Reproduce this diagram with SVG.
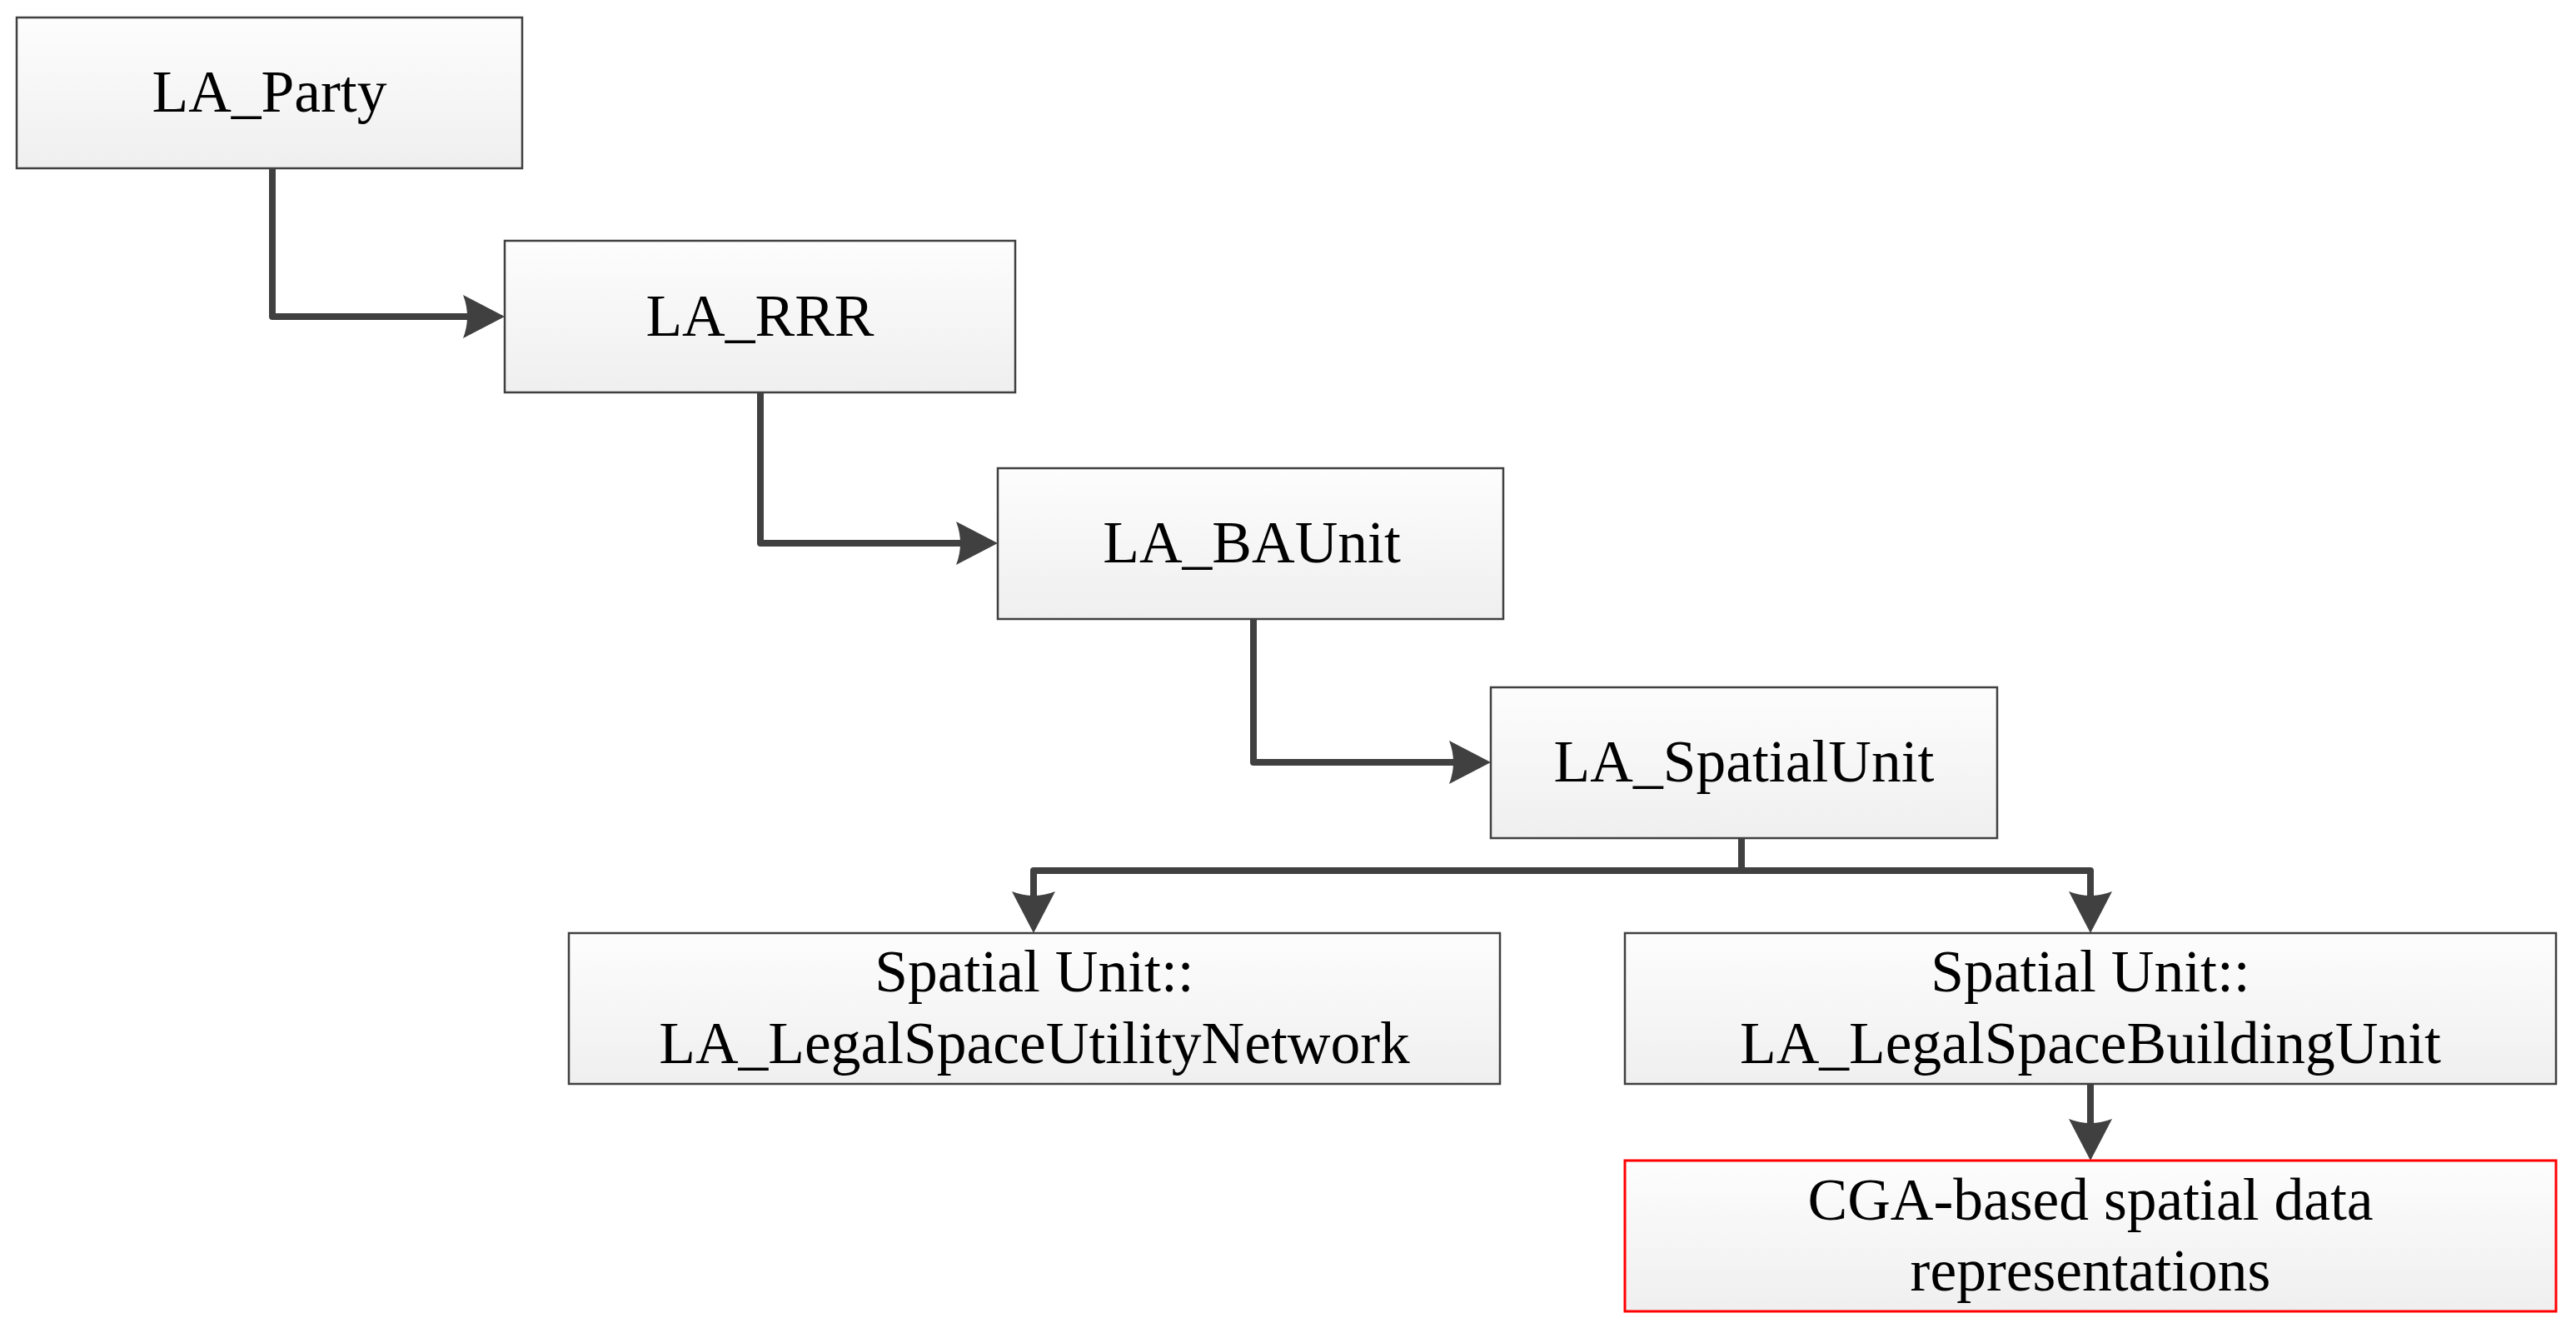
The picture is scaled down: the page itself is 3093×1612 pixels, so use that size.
<svg xmlns="http://www.w3.org/2000/svg" width="3093" height="1612" viewBox="0 0 3093 1612">
<style>
.box{fill:url(#g);stroke:#404040;stroke-width:2.5}
.red{fill:url(#g);stroke:#ff0000;stroke-width:3}
.t{font-family:"Liberation Serif","Times New Roman",serif;font-size:71.5px;fill:#000;text-anchor:middle}
.c{fill:none;stroke:#404040;stroke-width:8;stroke-linejoin:round}
.a{marker-end:url(#ah)}
</style>
<defs>
<linearGradient id="g" x1="0" y1="0" x2="0" y2="1">
<stop offset="0" stop-color="#fdfdfd"/>
<stop offset="1" stop-color="#efefef"/>
</linearGradient>
<marker id="ah" markerUnits="userSpaceOnUse" markerWidth="52" markerHeight="54" refX="8" refY="26" orient="auto" overflow="visible">
<path d="M50,26 L0,0 Q10,26 0,52 Z" fill="#404040"/>
</marker>
</defs>
<rect width="3093" height="1612" fill="#ffffff"/>
<g id="connectors">
<path class="c a" d="M327,202 V380 H564"/>
<path class="c a" d="M913,471 V652 H1156"/>
<path class="c a" d="M1505,743 V915 H1748"/>
<path class="c" d="M2091,1006 V1045"/>
<path class="c a" d="M2091,1045 H1241 V1078"/>
<path class="c a" d="M2091,1045 H2510 V1078"/>
<path class="c a" d="M2510,1301 V1351"/>
</g>
<g id="la_party">
<rect class="box" x="20" y="21" width="607" height="181"/>
<text class="t" x="323.5" y="134">LA_Party</text>
</g>
<g id="la_rrr">
<rect class="box" x="606" y="289" width="613" height="182"/>
<text class="t" x="912.5" y="403">LA_RRR</text>
</g>
<g id="la_baunit">
<rect class="box" x="1198" y="562" width="607" height="181"/>
<text class="t" x="1503" y="675">LA_BAUnit</text>
</g>
<g id="la_spatialunit">
<rect class="box" x="1790" y="825" width="608" height="181"/>
<text class="t" x="2094" y="938">LA_SpatialUnit</text>
</g>
<g id="utility_network">
<rect class="box" x="683" y="1120" width="1118" height="181"/>
<text class="t" x="1242" y="1190">Spatial Unit::</text>
<text class="t" x="1242" y="1276">LA_LegalSpaceUtilityNetwork</text>
</g>
<g id="building_unit">
<rect class="box" x="1951" y="1120" width="1118" height="181"/>
<text class="t" x="2510" y="1190">Spatial Unit::</text>
<text class="t" x="2510" y="1276">LA_LegalSpaceBuildingUnit</text>
</g>
<g id="cga">
<rect class="red" x="1951" y="1393" width="1118" height="181"/>
<text class="t" x="2510" y="1464">CGA-based spatial data</text>
<text class="t" x="2510" y="1549">representations</text>
</g>
</svg>
